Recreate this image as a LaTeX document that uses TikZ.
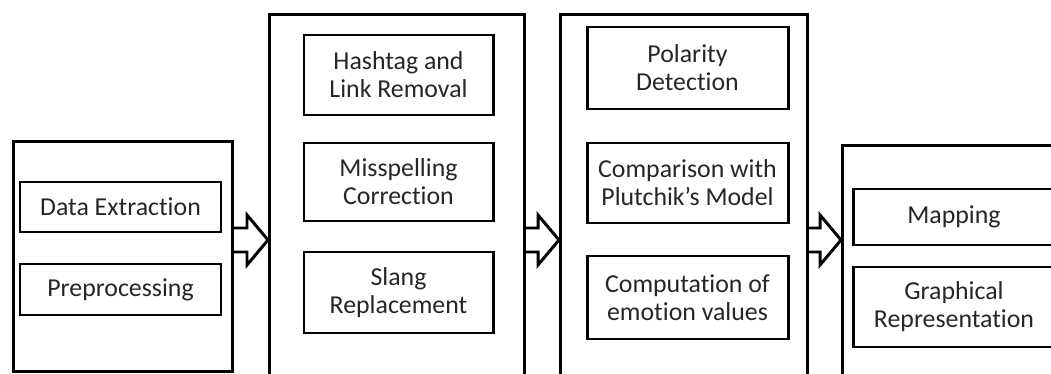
\documentclass[tikz,border=0pt]{standalone}
\usepackage{fontspec}
\setmainfont{Carlito}[Ligatures=NoCommon]
\usepackage{tikz}
\usetikzlibrary{positioning,calc}

% hollow block arrow: #1 tail point, #2 tip point
\newcommand{\blockarrow}[2]{%
  \draw[barrow] (#1) ++(0,0.24) -- ($(#2)+(-0.42,0.24)$) -- ++(0,0.26) -- (#2)
    -- ++(-0.42,-0.50) -- ++(0,0.26) -- ($(#1)+(0,-0.24)$);}

\begin{document}
\begin{tikzpicture}[
  node distance=0.6cm,
  stage/.style={draw, line width=1.7pt, anchor=north west, inner sep=0pt},
  task/.style={draw, line width=1.7pt, outer sep=0pt, minimum width=4.02cm, align=center, text=black!85, font=\fontsize{14.7}{16}\selectfont},
  barrow/.style={line width=1.7pt, line join=miter}
]
\useasboundingbox (0,0) rectangle (21.02,-7.48);
\clip (0,0) rectangle (21.02,-7.48);

% stages
\node[stage, minimum width=4.38cm, minimum height=4.60cm] (s1) at (0.24,-2.80) {};
\node[stage, minimum width=5.10cm, minimum height=7.90cm] (s2) at (5.36,-0.26) {};
\node[stage, minimum width=4.94cm, minimum height=7.90cm] (s3) at (11.18,-0.26) {};
\node[stage, minimum width=4.52cm, minimum height=5.00cm] (s4) at (16.82,-2.88) {};

% stage 1
\node[task, minimum height=1.00cm] (extract) at (2.41,-4.14) {Data Extraction};
\node[task, minimum height=1.02cm, below=0.64cm of extract] (preproc) {Preprocessing};

% stage 2
\node[task, minimum width=3.78cm, minimum height=1.60cm] (hashtag) at (7.97,-1.50) {Hashtag and\\Link Removal};
\node[task, minimum width=3.78cm, minimum height=1.56cm, below=0.56cm of hashtag] (misspell) {Misspelling\\Correction};
\node[task, minimum width=3.78cm, minimum height=1.62cm, below=0.62cm of misspell] (slang) {Slang\\Replacement};

% stage 3
\node[task, minimum height=1.64cm] (polarity) at (13.75,-1.36) {Polarity\\Detection};
\node[task, minimum height=1.60cm, below=0.68cm of polarity] (plutchik) {Comparison with\\Plutchik’s Model};
\node[task, minimum height=1.66cm, below=0.66cm of plutchik] (emotion) {Computation of\\emotion values};

% stage 4
\node[task, minimum height=1.12cm] (mapping) at (19.08,-4.34) {Mapping};
\node[task, minimum height=1.60cm, below=0.44cm of mapping] (graphrep) {Graphical\\Representation};

\coordinate (lvl) at (0,-4.80);
\foreach \a/\b in {s1/s2,s2/s3,s3/s4} \blockarrow{\a.east |- lvl}{\b.west |- lvl};
\end{tikzpicture}
\end{document}
